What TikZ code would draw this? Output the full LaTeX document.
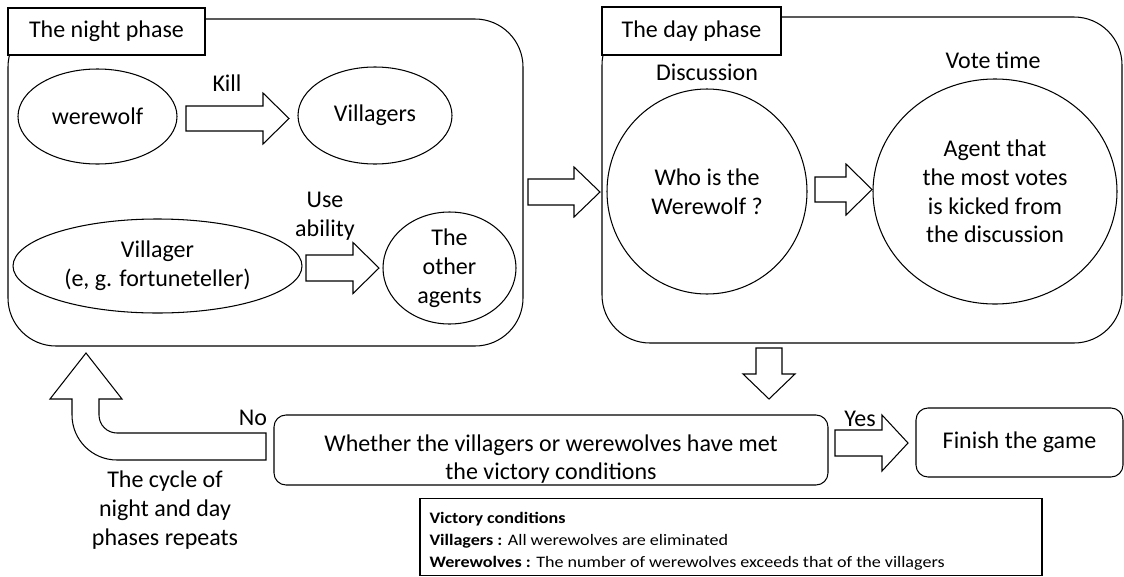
\documentclass[tikz,border=0pt]{standalone}
\usepackage{fontspec}
\setmainfont{Carlito}
\newfontfamily\victfont[FakeStretch=1.13]{Carlito}
\usetikzlibrary{shapes.geometric}
\newcommand\blockright[6]{\draw[blockarrow] (#1,{#3-#4}) -- (#6,{#3-#4}) -- (#6,{#3-#5}) -- (#2,#3) -- (#6,{#3+#5}) -- (#6,{#3+#4}) -- (#1,{#3+#4}) -- cycle;}
\newcommand\blockdown[6]{\draw[blockarrow] ({#3-#4},#1) -- ({#3-#4},#6) -- ({#3-#5},#6) -- (#3,#2) -- ({#3+#5},#6) -- ({#3+#4},#6) -- ({#3+#4},#1) -- cycle;}
\begin{document}
\begin{tikzpicture}[x=1pt,y=-1pt,line width=1.05pt,
  every node/.style={font=\fontsize{24}{28.8}\selectfont, inner sep=0pt, align=center},
  phasebox/.style={draw, rounded corners=48pt},
  tabbox/.style={draw, fill=white},
  oval/.style={draw, ellipse, inner sep=0pt},
  roundbox/.style={draw, rounded corners=12pt},
  blockarrow/.style={draw, fill=white, line join=miter},
  lbl/.style={anchor=base},
  small/.style={font=\victfont\fontsize{16}{20}\selectfont, anchor=base west}]
\useasboundingbox (0,0) rectangle (1124,576);

% phase boxes
\node[phasebox, minimum width=515pt, minimum height=327pt] (night) at (265.5,182.5) {};
\node[phasebox, minimum width=520pt, minimum height=326pt] (day) at (862,180) {};
\node[tabbox, minimum width=197pt, minimum height=47pt] (nighttab) at (106.5,31.5) {The night phase};
\node[tabbox, minimum width=179pt, minimum height=48pt] (daytab) at (691.5,31) {The day phase};

% night phase content
\node[oval, minimum width=159pt, minimum height=95pt] (wolf) at (97.5,116.5) {werewolf};
\node[oval, minimum width=154pt, minimum height=97pt] (vill) at (375,115.5) {Villagers};
\node[oval, minimum width=289pt, minimum height=94pt] (seer) at (157.5,266) {Villager\\(e, g. fortuneteller)};
\node[oval, minimum width=133pt, minimum height=112pt] (others) at (449.5,268) {The\\other\\agents};
\node[lbl] (kill) at (227,91) {Kill};
\node (use) at (325,216) {Use\\ability};
\blockright{186}{289}{118.5}{12.5}{25.5}{263}
\blockright{306}{379}{268}{13}{25.5}{353}

% between phases
\blockright{528}{600}{192}{13}{25}{574}

% day phase content
\node[lbl] (disc) at (707,80) {Discussion};
\node[lbl] (votet) at (993,68) {Vote time};
\node[oval, minimum width=200pt, minimum height=205pt] (who) at (707,191.5) {Who is the\\Werewolf ?};
\node[oval, minimum width=244pt, minimum height=225pt] (vote) at (995,191.5) {Agent that\\the most votes\\is kicked from\\the discussion};
\blockright{815}{872}{189.5}{12.5}{25.5}{846}

% decision
\blockdown{348}{399}{769}{13}{26}{374}
\node[roundbox, minimum width=554pt, minimum height=70pt] (dec) at (551,450) {};
\node (dectext) at (551,459) {Whether the villagers or werewolves have met\\the victory conditions};
\node[roundbox, minimum width=207pt, minimum height=69pt] (fin) at (1019.5,442.5) {Finish the game};
\blockright{835}{908}{443}{13}{28}{882}
\node[lbl] (yes) at (860,426) {Yes};
\node[lbl] (no) at (253,425) {No};

% return arrow
\draw[blockarrow] (266,433) -- (117,433) .. controls (107.06,433) and (99,424.94) .. (99,415) -- (99,399) -- (122,399) -- (86,353) -- (50,399) -- (72,399) -- (72,415) .. controls (72,439.85) and (92.15,460) .. (117,460) -- (266,460) -- cycle;
\node (cycle) at (165,510) {The cycle of\\night and day\\phases repeats};

% victory conditions
\node[draw, minimum width=622pt, minimum height=77pt] (vict) at (731,537) {};
\node[small] (v1) at (429,523) {\textbf{Victory conditions}};
\node[small] (v2) at (429,545) {\textbf{Villagers :} All werewolves are eliminated};
\node[small] (v3) at (429,567) {\textbf{Werewolves :} The number of werewolves exceeds that of the villagers};
\end{tikzpicture}
\end{document}
